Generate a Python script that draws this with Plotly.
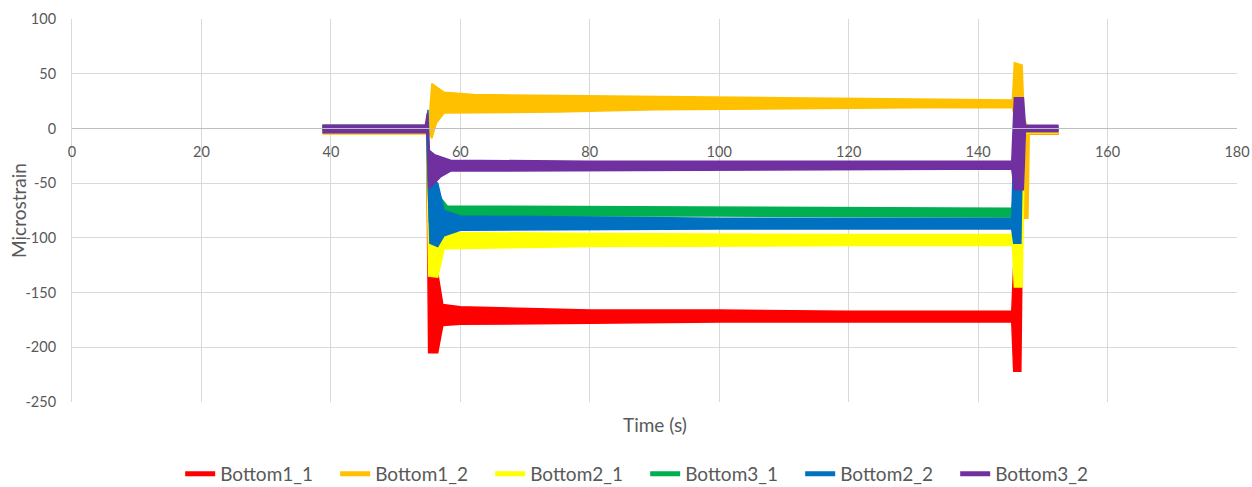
import plotly.graph_objects as go

# ---------------- data ----------------
names = ["Bottom1_1", "Bottom1_2", "Bottom2_1", "Bottom3_1", "Bottom2_2", "Bottom3_2"]
colors = ["#FF0000", "#FFC000", "#FFFF00", "#00B050", "#0070C0", "#7030A0"]

# envelope of each oscillating signal: time knots, upper edge, lower edge
b11_t = [38.7, 54.8, 55.1, 56.5, 57.3, 60, 80, 100, 120, 145.2, 145.5, 146.6, 147.0, 152.3]
b11_hi = [0, 0, -130, -132, -161, -163, -166, -166, -167, -167, -125, -125, -2, -2]
b11_lo = [-4, -4, -205, -205, -180, -179, -178, -177, -177, -177, -222, -222, -5, -5]

b12_t = [38.7, 54.8, 55.2, 55.6, 56.3, 57.5, 62, 75, 90, 110, 130, 145.3, 145.6, 146.8, 147.1, 147.7, 147.9, 152.3]
b12_hi = [-1, -1, 10, 41, 38, 33, 31, 30, 29, 28, 27, 26, 60, 58, 10, 0, -1, -1]
b12_lo = [-5, -5, -5, -9, 5, 14, 14, 15, 17, 18, 19, 19, 10, -20, -82, -82, -5, -5]

b21_t = [38.7, 54.8, 55.1, 56.5, 57.5, 80, 120, 145.3, 145.6, 146.8, 147.2, 152.3]
b21_hi = [1, 1, -90, -92, -95, -96, -97, -97, 12, 12, 0, 0]
b21_lo = [-3, -3, -135, -136, -110, -108, -107, -107, -145, -145, -4, -4]

b31_t = [38.7, 54.8, 55.2, 56.5, 58, 100, 145.2, 145.5, 146.3, 146.6, 152.3]
b31_hi = [3, 3, -55, -60, -71, -72, -73, -62, -62, 2, 2]
b31_lo = [-1, -1, -85, -82, -80, -80, -81, -82, -82, -2, -2]

b22_t = [38.7, 54.8, 55.0, 55.3, 56.5, 57.5, 60, 100, 145.2, 145.5, 146.6, 146.9, 152.3]
b22_hi = [2, 2, 17, -45, -50, -75, -80, -82, -82, -15, -15, 2, 2]
b22_lo = [-2, -2, -50, -105, -108, -98, -93, -92, -92, -105, -105, -2, -2]

b32_t = [38.7, 54.6, 54.9, 55.2, 56.0, 57.0, 58.5, 80, 145.2, 145.6, 147.0, 147.3, 152.3]
b32_hi = [3, 3, 14, -20, -24, -26, -29, -30, -30, 28, 28, 3, 3]
b32_lo = [-4, -4, -4, -55, -50, -44, -39, -38, -37, -56, -56, -3, -3]

series_t = [b11_t, b12_t, b21_t, b31_t, b22_t, b32_t]
series_hi = [b11_hi, b12_hi, b21_hi, b31_hi, b22_hi, b32_hi]
series_lo = [b11_lo, b12_lo, b21_lo, b31_lo, b22_lo, b32_lo]

x_ticks = [0, 20, 40, 60, 80, 100, 120, 140, 160, 180]
y_ticks = [100, 50, 0, -50, -100, -150, -200, -250]
x_range = [0, 180]
y_range = [-250, 100]

# ---------------- figure ----------------
fig = go.Figure()
font_family = "Lato, 'Open Sans', sans-serif"
grey = "#595959"

for name, col, t, hi, lo in zip(names, colors, series_t, series_hi, series_lo):
    fig.add_trace(go.Scatter(
        x=t + t[::-1], y=hi + lo[::-1],
        mode="lines", fill="toself", fillcolor=col,
        line=dict(color=col, width=1.5),
        legendgroup=name, showlegend=False, hoverinfo="skip",
    ))

for name, col in zip(names, colors):
    fig.add_trace(go.Scatter(
        x=[None], y=[None], mode="lines", name=name,
        line=dict(color=col, width=5), legendgroup=name,
    ))

zero_pos = (0 - y_range[0]) / (y_range[1] - y_range[0])

fig.update_layout(
    width=1252, height=487,
    margin=dict(l=72, r=15, t=19, b=85, autoexpand=False),
    paper_bgcolor="white", plot_bgcolor="white",
    font=dict(family=font_family, color=grey, size=14),
    showlegend=True,
    legend=dict(orientation="h", x=0.492, xanchor="center", y=-0.188, yanchor="middle",
                font=dict(size=19, color=grey), entrywidth=110, entrywidthmode="pixels",
                itemwidth=30, tracegroupgap=0),
    xaxis=dict(range=x_range, tickvals=x_ticks, ticktext=[str(v) for v in x_ticks],
               showgrid=True, gridcolor="#D9D9D9", gridwidth=1, automargin=False,
               zeroline=False, showline=True, linecolor="#BFBFBF", linewidth=1,
               anchor="free", position=zero_pos, ticks="", ticklabelstandoff=10,
               tickfont=dict(size=14.5, color=grey)),
    yaxis=dict(range=y_range, tickvals=y_ticks, ticktext=[str(v) for v in y_ticks],
               showgrid=True, gridcolor="#D9D9D9", gridwidth=1, automargin=False,
               zeroline=False, showline=True, linecolor="#D9D9D9", linewidth=1,
               ticks="", ticklabelstandoff=12,
               tickfont=dict(size=14.5, color=grey)),
    annotations=[
        dict(text="Time (s)", xref="paper", yref="paper", x=0.5, y=0,
             yshift=-22, xanchor="center", yanchor="middle", showarrow=False,
             font=dict(size=19, color=grey)),
        dict(text="Microstrain", xref="paper", yref="paper", x=0, y=0.5,
             xshift=-53.5, xanchor="center", yanchor="middle", textangle=-90,
             showarrow=False, font=dict(size=19, color=grey)),
    ],
)

fig.write_html("out.html")
